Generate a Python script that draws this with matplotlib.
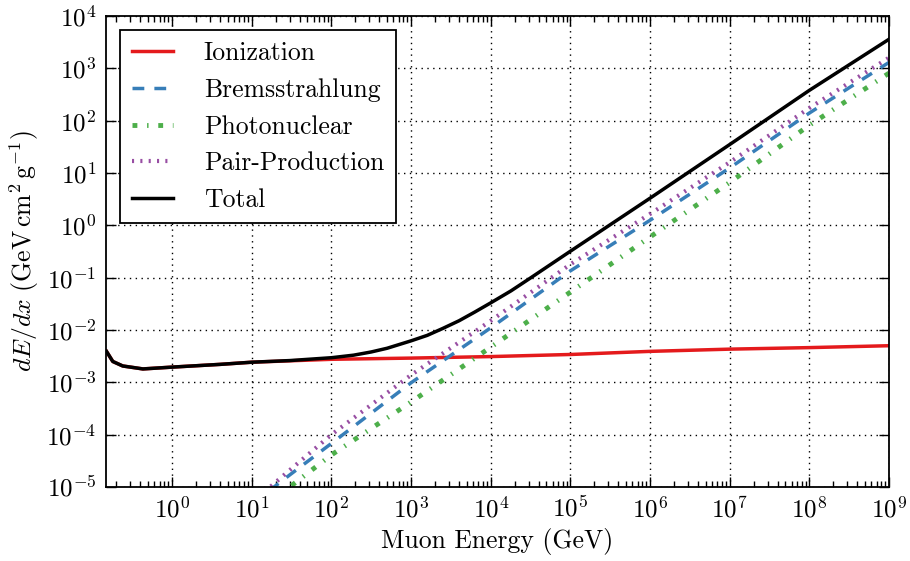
import numpy as np
import matplotlib
matplotlib.use("Agg")
import matplotlib.pyplot as plt

plt.rcParams['font.family'] = 'serif'
plt.rcParams['font.serif'] = ['cmr10']
plt.rcParams['mathtext.fontset'] = 'cm'
plt.rcParams['axes.unicode_minus'] = False
plt.rcParams['axes.formatter.use_mathtext'] = True

# energies (GeV) and losses (GeV cm^2 / g)
e_ion = [0.15, 0.18, 0.24, 0.43, 1, 4, 10, 100, 1e3, 1e4, 1e5, 1e6, 1e7, 1e8, 1e9]
ionization = [3.9e-3, 2.5e-3, 2.05e-3, 1.8e-3, 1.95e-3, 2.2e-3, 2.42e-3, 2.75e-3,
              2.9e-3, 3.1e-3, 3.4e-3, 3.9e-3, 4.3e-3, 4.6e-3, 5.0e-3]

e_rad = [10, 30, 100, 1e3, 1e4, 1e5, 1e6, 1e7, 1e8, 1e9]
brems = [4.7e-6, 1.7e-5, 6.8e-5, 9.8e-4, 1.1e-2, 0.135, 1.25, 12.5, 140, 1300]
photonuclear = [2.5e-6, 1.0e-5, 4.1e-5, 4.2e-4, 4.7e-3, 5.3e-2, 0.6, 6.6, 82, 810]
pair = [5e-6, 2.1e-5, 1.0e-4, 1.38e-3, 1.5e-2, 0.18, 1.65, 16, 175, 1600]

e_tot = [0.15, 0.18, 0.24, 0.43, 1, 4, 10, 30, 100, 190, 316, 500, 1e3, 1.6e3,
         2.5e3, 4e3, 6.3e3, 1e4, 1.8e4, 3.2e4, 1e5, 1e6, 1e7, 1e8, 1e9]
total = [3.9e-3, 2.5e-3, 2.05e-3, 1.8e-3, 1.95e-3, 2.2e-3, 2.42e-3, 2.6e-3, 2.95e-3,
         3.3e-3, 3.8e-3, 4.47e-3, 6.2e-3, 7.9e-3, 1.07e-2, 1.5e-2, 2.2e-2, 3.3e-2,
         5.6e-2, 0.1, 0.32, 3.3, 35, 380, 3600]

fig = plt.figure(figsize=(9.1, 5.61), dpi=100)
ax = fig.add_axes([0.1165, 0.132, 0.8605, 0.8395])

ax.plot(e_ion, ionization, color='#e41a1c', lw=2.5, label='Ionization')
ax.plot(e_rad, brems, color='#377eb8', lw=2.5, dashes=(3.4, 2.9), label='Bremsstrahlung')
ax.plot(e_rad, photonuclear, color='#4daf4a', lw=3.5, dashes=(1, 2, 0.3, 2), label='Photonuclear')
ax.plot(e_rad, pair, color='#984ea3', lw=3, dashes=(0.5, 1.5), label='Pair-Production')
ax.plot(e_tot, total, color='black', lw=2.5, label='Total')

ax.set_xscale('log')
ax.set_yscale('log')
ax.set_xlim(0.148, 1e9)
ax.set_ylim(1e-5, 1e4)
ax.set_xticks([10.0**k for k in range(0, 10)])
ax.set_yticks([10.0**k for k in range(-5, 5)])

ax.grid(True, which='major', color='black', linestyle=(0, (1, 3.2)), lw=1)
ax.tick_params(which='both', direction='in', top=True, right=True, labelsize=18, pad=7)
ax.tick_params(which='major', length=7, width=1)
ax.tick_params(which='minor', length=4, width=1)
for s in ax.spines.values():
    s.set_linewidth(1.3)

ax.set_xlabel('Muon Energy (GeV)', fontsize=18.5)
ax.set_ylabel(r'$dE/dx\ (\mathrm{GeV\,cm^2\,g^{-1}})$', fontsize=18.5)

leg = ax.legend(loc='upper left', fontsize=18.5, fancybox=False, framealpha=1,
                edgecolor='black', handlelength=1.6, handletextpad=1.2,
                labelspacing=0.5, borderpad=0.45, borderaxespad=0.55)
leg.get_frame().set_linewidth(1.3)

fig.savefig('out.png', dpi=100)
